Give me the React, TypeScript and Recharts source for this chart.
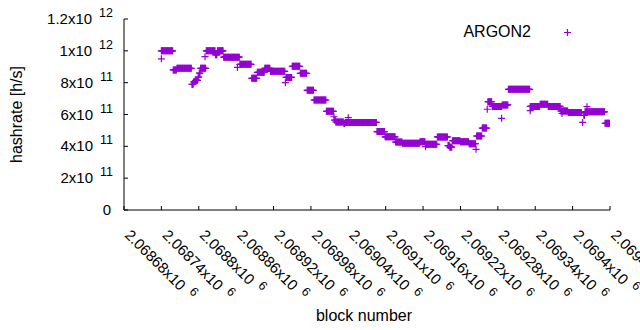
import { ScatterChart, Scatter, XAxis, YAxis, Legend, Label } from 'recharts';

// runs of blocks that share the same hashrate estimate
const runFirstBlock = [
  2068740, 2068740, 2068759, 2068765, 2068789, 2068792, 2068795, 2068799, 2068801, 2068803,
  2068810, 2068812, 2068827, 2068830, 2068840, 2068862, 2068866, 2068885, 2068894, 2068906,
  2068915, 2068939, 2068940, 2068950, 2068963, 2068974, 2068985, 2069005, 2069017, 2069018,
  2069020, 2069033, 2069035, 2069040, 2069086, 2069099, 2069116, 2069127, 2069155, 2069164,
  2069164, 2069183, 2069200, 2069203, 2069207, 2069220, 2069234, 2069245, 2069246, 2069255,
  2069263, 2069264, 2069271, 2069286, 2069287, 2069297, 2069332, 2069332, 2069348, 2069361,
  2069381, 2069383, 2069393, 2069416, 2069418, 2069423, 2069420, 2069452,
];
const runLastBlock = [
  2068740, 2068758, 2068764, 2068788, 2068791, 2068794, 2068798, 2068800, 2068802, 2068811,
  2068810, 2068826, 2068829, 2068839, 2068865, 2068862, 2068884, 2068893, 2068905, 2068914,
  2068938, 2068939, 2068949, 2068962, 2068973, 2068984, 2069004, 2069016, 2069017, 2069019,
  2069032, 2069034, 2069085, 2069040, 2069098, 2069115, 2069126, 2069154, 2069163, 2069182,
  2069164, 2069199, 2069202, 2069206, 2069219, 2069233, 2069244, 2069245, 2069254, 2069262,
  2069263, 2069270, 2069286, 2069286, 2069296, 2069331, 2069332, 2069347, 2069360, 2069380,
  2069392, 2069383, 2069414, 2069416, 2069419, 2069423, 2069451, 2069460,
];
const runHashrate = [
  9.5e11, 10.0e11, 8.8e11, 8.9e11, 7.9e11, 8.05e11, 8.15e11, 8.35e11, 8.6e11, 8.9e11,
  9.63e11, 10.0e11, 9.75e11, 10.0e11, 9.6e11, 8.96e11, 9.15e11, 8.27e11, 8.65e11, 8.9e11,
  8.71e11, 8.0e11, 8.33e11, 9.03e11, 8.59e11, 7.52e11, 6.91e11, 6.2e11, 5.86e11, 5.65e11,
  5.53e11, 5.44e11, 5.5e11, 5.8e11, 4.93e11, 4.6e11, 4.27e11, 4.19e11, 4.29e11, 4.13e11,
  3.98e11, 4.59e11, 4.05e11, 3.95e11, 4.35e11, 4.29e11, 4.17e11, 3.81e11, 4.65e11, 5.15e11,
  6.33e11, 6.8e11, 6.51e11, 5.76e11, 6.6e11, 7.58e11, 6.24e11, 6.51e11, 6.64e11, 6.51e11,
  6.22e11, 6.07e11, 6.12e11, 5.5e11, 5.95e11, 6.49e11, 6.17e11, 5.45e11,
];

const xTicks = [
  2068680, 2068740, 2068800, 2068860, 2068920, 2068980, 2069040,
  2069100, 2069160, 2069220, 2069280, 2069340, 2069400, 2069460,
];
const yTicks = [0, 2e11, 4e11, 6e11, 8e11, 1e12, 1.2e12];

const PURPLE = '#9400d3';
const FONT = '"Liberation Sans", Arial, sans-serif';

const points: { block: number; hashrate: number }[] = [];
runFirstBlock.forEach((first, i) => {
  for (let b = first; b <= runLastBlock[i]; b++) {
    points.push({ block: b, hashrate: runHashrate[i] });
  }
});

const Plus = ({ cx, cy }: any) => (
  <path d={`M${cx - 3.5},${cy}h7M${cx},${cy - 3.5}v7`} stroke={PURPLE} strokeWidth={1.2} fill="none" />
);

const XTick = ({ x, y, payload }: any) => {
  const mant = parseFloat((payload.value / 1e6).toFixed(5)).toString();
  return (
    <g>
      <line x1={x} y1={y} x2={x} y2={y - 4} stroke="#000" />
      <text
        transform={`translate(${x},${y + 26}) rotate(45)`}
        fontSize={15}
        fontFamily={FONT}
        fill="#000"
      >
        {mant}x10
        <tspan dx={7} dy={-6} fontSize={12.5}>6</tspan>
      </text>
    </g>
  );
};

const TopTick = ({ x, y }: any) => <line x1={x} y1={y} x2={x} y2={y + 4} stroke="#000" />;

const YTick = ({ x, y, payload }: any) => {
  const v = payload.value;
  let label;
  if (v === 0) {
    label = (
      <text x={x - 13} y={y + 5} textAnchor="end" fontSize={15} fontFamily={FONT} fill="#000">0</text>
    );
  } else {
    const exp = Math.floor(Math.log10(v) + 1e-9);
    const mant = parseFloat((v / Math.pow(10, exp)).toFixed(1)).toString();
    label = (
      <text x={x - 11} y={y + 5} textAnchor="end" fontSize={15} fontFamily={FONT} fill="#000">
        {mant}x10
        <tspan dx={7} dy={-7} fontSize={12.5}>{exp}</tspan>
      </text>
    );
  }
  return (
    <g>
      <line x1={x} y1={y} x2={x + 4} y2={y} stroke="#000" />
      {label}
    </g>
  );
};

const RightTick = ({ x, y }: any) => <line x1={x} y1={y} x2={x - 4} y2={y} stroke="#000" />;

const renderLegend = () => (
  <div style={{ position: 'relative', width: 640, height: 20 }}>
    <span
      style={{
        position: 'absolute', right: 640 - 531, top: 0, fontFamily: FONT,
        fontSize: 16, lineHeight: '18px', color: '#000', whiteSpace: 'nowrap',
      }}
    >
      ARGON2
    </span>
    <svg style={{ position: 'absolute', left: 560, top: 0 }} width={16} height={20}>
      <path d="M4,9.5h7M7.5,6v7" stroke={PURPLE} strokeWidth={1.2} fill="none" />
    </svg>
  </div>
);

export default function App() {
  return (
    <div style={{ position: 'absolute', left: 0, top: 0, background: '#fff' }}>
      <ScatterChart width={640} height={330} margin={{ top: 19, right: 30, bottom: 0, left: 0 }}>
        <XAxis
          dataKey="block"
          type="number"
          domain={[2068680, 2069460]}
          ticks={xTicks}
          interval={0}
          height={120}
          tickSize={0}
          tickMargin={0}
          tickLine={false}
          tick={<XTick />}
          axisLine={{ stroke: '#000' }}
          allowDataOverflow
        >
          <Label
            content={({ viewBox }: any) => (
              <text
                x={viewBox.x + viewBox.width / 2 - 3}
                y={viewBox.y + 111}
                textAnchor="middle"
                fontSize={16}
                fontFamily={FONT}
                fill="#000"
              >
                block number
              </text>
            )}
          />
        </XAxis>
        <XAxis
          xAxisId="top"
          orientation="top"
          type="number"
          domain={[2068680, 2069460]}
          ticks={xTicks}
          interval={0}
          height={0}
          tickSize={0}
          tickMargin={0}
          tickLine={false}
          tick={<TopTick />}
          axisLine={{ stroke: '#000' }}
        />
        <YAxis
          dataKey="hashrate"
          type="number"
          domain={[0, 1.2e12]}
          ticks={yTicks}
          interval={0}
          width={124}
          tickSize={0}
          tickMargin={0}
          tickLine={false}
          tick={<YTick />}
          axisLine={{ stroke: '#000' }}
        >
          <Label
            content={({ viewBox }: any) => {
              const cx = 22;
              const cy = viewBox.y + viewBox.height / 2;
              return (
                <text
                  x={cx}
                  y={cy}
                  transform={`rotate(-90, ${cx}, ${cy})`}
                  textAnchor="middle"
                  fontSize={16}
                  fontFamily={FONT}
                  fill="#000"
                >
                  hashrate [h/s]
                </text>
              );
            }}
          />
        </YAxis>
        <YAxis
          yAxisId="right"
          orientation="right"
          type="number"
          domain={[0, 1.2e12]}
          ticks={yTicks}
          interval={0}
          width={0}
          tickSize={0}
          tickMargin={0}
          tickLine={false}
          tick={<RightTick />}
          axisLine={{ stroke: '#000' }}
        />
        <Legend
          layout="horizontal"
          verticalAlign="middle"
          align="center"
          wrapperStyle={{ position: 'absolute', left: 0, top: 23, width: 640 }}
          content={renderLegend}
        />
        <Scatter data={points} shape={<Plus />} isAnimationActive={false} />
      </ScatterChart>
    </div>
  );
}
